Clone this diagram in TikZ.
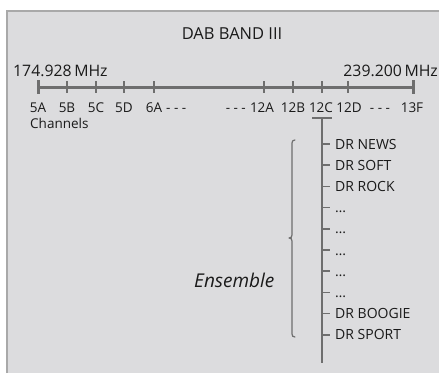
\documentclass[tikz,border=0pt]{standalone}
\usepackage{fontspec}
\setmainfont{Open Sans}
\definecolor{bgc}{HTML}{DCDCDE}
\definecolor{bord}{HTML}{A9A9A9}
\definecolor{linec}{HTML}{6E6E6E}
\definecolor{txt}{HTML}{1A1A1A}
\begin{document}
\begin{tikzpicture}[x=1pt,y=-1pt,
  lbl/.style={inner sep=0pt,text=txt,font=\fontsize{13.5}{15}\selectfont},
  big/.style={inner sep=0pt,text=txt,font=\fontsize{15.8}{18}\selectfont},
  item/.style={inner sep=0pt,anchor=base west,text=txt,font=\fontsize{14}{16}\selectfont},
  axis/.style={draw=linec,line width=3pt},
  tick/.style={draw=linec,line width=1.1pt},
  endtick/.style={draw=linec,line width=3pt},
  stem/.style={draw=linec,line width=1.8pt},
  brc/.style={draw=linec,line width=1.2pt,line cap=round,line join=round}]
\useasboundingbox (0,0) rectangle (439,373);
\fill[white] (0,0) rectangle (439,373);
\fill[bgc] (6,10) rectangle (439,373);
\draw[bord,line width=2pt] (7,373) -- (7,11) -- (439,11);

\node[inner sep=0pt,text=txt,font=\fontsize{16.5}{18}\selectfont] (title) at (232,34) {DAB BAND III};
\node[big,anchor=base west] (fmin) at (13,76) {174.928\,MHz};
\node[big,anchor=base east] (fmax) at (438,76) {239.200\,MHz};

% axis
\coordinate (L) at (38,87);
\coordinate (R) at (413,87);
\draw[axis] (L) -- (R);
\draw[endtick] (38,80) -- (38,94);
\draw[endtick] (413,80) -- (413,94);
\foreach \x/\n in {67/5B,96/5C,124/5D,154/6A,264/12A,293/12B,322/12C,348/12D}{
  \coordinate (t\n) at (\x,87);
  \draw[tick] (\x,81) -- (\x,93);
}
\foreach \x/\n in {38/5A,67/5B,96/5C,124/5D,154/6A,262/12A,293/12B,321/12C,349/12D,412/13F}{
  \node[lbl,anchor=base] (c\n) at (\x,112.5) {\n};
}
\node[lbl,anchor=base west] (d1) at (166,112.5) {- - -};
\node[lbl,anchor=base east] (d2) at (246,112.5) {- - -};
\node[lbl,anchor=base] (d3) at (380,112.5) {- - -};
\node[lbl,anchor=base west] (chan) at (30,128) {Channels};

% ensemble stem
\coordinate (st) at (322,118);
\coordinate (sb) at (322,363);
\draw[stem] (312,118) -- (332,118);
\draw[stem] (st) -- (sb);

\foreach \i/\t in {0/DR NEWS,1/DR SOFT,2/DR ROCK,3/…,4/…,5/…,6/…,7/…,8/DR BOOGIE,9/DR SPORT}{
  \pgfmathsetmacro{\yy}{144+21.2*\i}
  \coordinate (k\i) at (322,\yy);
  \draw[tick,line width=1.5pt] (k\i) -- ++(7.5,0);
  \node[item] (e\i) at (335,\yy+5) {\t};
}

% brace
\draw[brc] (295,140) .. controls (293,140) and (292,141) .. (292,143)
  -- (292,235) .. controls (292,237) and (291,238) .. (289,238)
  .. controls (291,238) and (292,239) .. (292,241)
  -- (292,334) .. controls (292,336) and (293,337) .. (295,337);

\node[inner sep=0pt,anchor=base west,text=txt,font=\fontsize{19}{21}\selectfont\itshape] (ens) at (194,287) {Ensemble};
\end{tikzpicture}
\end{document}
